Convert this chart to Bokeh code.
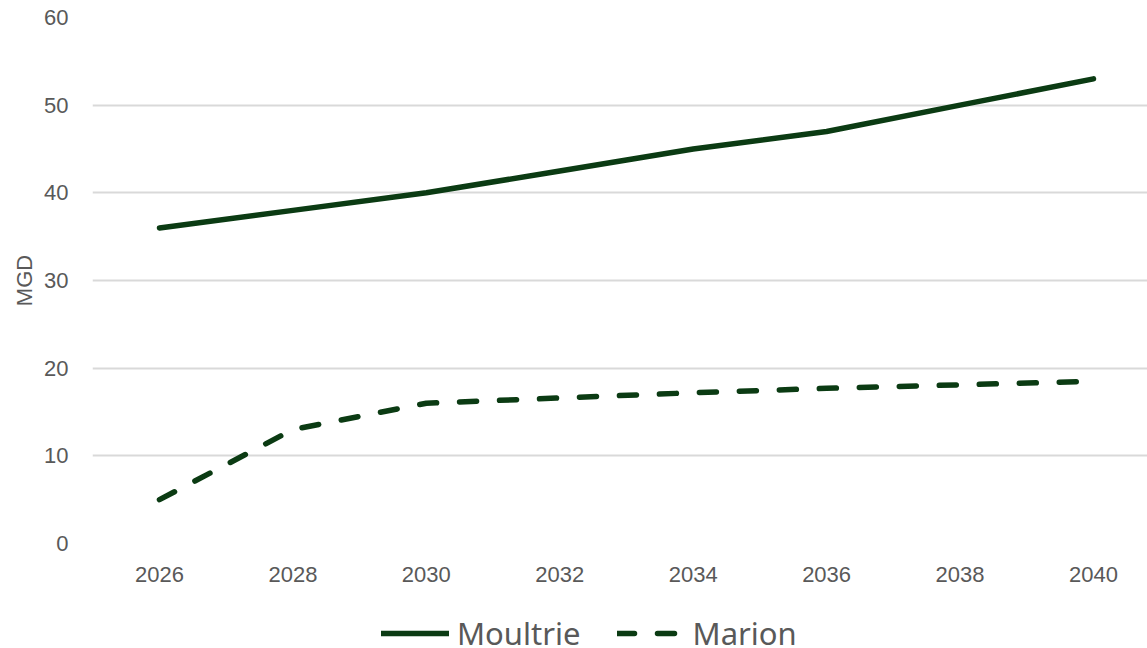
from bokeh.plotting import figure
from bokeh.layouts import column
from bokeh.models import Legend, LegendItem, FixedTicker, Range1d
from bokeh.embed import file_html
from bokeh.resources import INLINE

years = [2026, 2028, 2030, 2032, 2034, 2036, 2038, 2040]
moultrie = [36, 38, 40, 42.5, 45, 47, 50, 53]
marion = [5, 13, 16, 16.6, 17.2, 17.7, 18.1, 18.5]
y_ticks = [0, 10, 20, 30, 40, 50, 60]
x_ticks = years
y_label = "MGD"
series_names = ["Moultrie", "Marion"]

GREEN = "#0b3b13"
GRAY_TXT = "#595959"

p = figure(width=1147, height=596, output_backend="svg", toolbar_location=None,
           x_range=Range1d(2024.996, 2040.81), y_range=Range1d(0, 60),
           min_border_left=92, min_border_right=0, min_border_top=17,
           min_border_bottom=53)
p.outline_line_color = None
p.background_fill_color = "white"
p.border_fill_color = "white"

p.xgrid.grid_line_color = None
p.ygrid.grid_line_color = "#d9d9d9"
p.ygrid.grid_line_width = 1.8
p.ygrid.ticker = FixedTicker(ticks=y_ticks)

for ax in (p.xaxis[0], p.yaxis[0]):
    ax.axis_line_color = None
    ax.major_tick_line_color = None
    ax.minor_tick_line_color = None
    ax.major_tick_in = 0
    ax.major_tick_out = 0
    ax.minor_tick_in = 0
    ax.minor_tick_out = 0
    ax.major_label_text_font = "Liberation Sans"
    ax.major_label_text_font_size = "22px"
    ax.major_label_text_color = GRAY_TXT

p.xaxis.ticker = FixedTicker(ticks=x_ticks)
p.yaxis.ticker = FixedTicker(ticks=y_ticks)
p.yaxis.major_label_standoff = 24
p.xaxis.major_label_standoff = 23
p.yaxis.axis_label = y_label
p.yaxis.axis_label_text_font = "Liberation Sans"
p.yaxis.axis_label_text_font_size = "22px"
p.yaxis.axis_label_text_font_style = "normal"
p.yaxis.axis_label_text_color = GRAY_TXT
p.yaxis.axis_label_standoff = 4

line_kw = dict(line_color=GREEN, line_width=5.5, line_cap="round", line_join="round")
p.line(years, moultrie, **line_kw)
p.line(years, marion, line_dash="17 23", **line_kw)

# legend strip below the chart (its lines lie outside its own view)
q = figure(width=1147, height=52, output_backend="svg", toolbar_location=None,
           x_range=Range1d(0, 1000), y_range=Range1d(0, 60),
           x_axis_location=None, y_axis_location=None,
           min_border_left=0, min_border_right=0, min_border_top=0,
           min_border_bottom=0)
q.outline_line_color = None
q.grid.visible = False
q.background_fill_color = "white"
q.border_fill_color = "white"
l1 = q.line(years, moultrie, **line_kw)
l2 = q.line(years, marion, line_dash="17 23", **line_kw)

legend = Legend(items=[LegendItem(label=series_names[0], renderers=[l1]),
                       LegendItem(label=series_names[1], renderers=[l2])],
                orientation="horizontal", location=(289, -6),
                glyph_width=68, label_standoff=8, spacing=36,
                padding=0, margin=0, border_line_alpha=0,
                background_fill_alpha=0,
                label_text_font="Noto Sans", label_text_font_size="31px",
                label_text_color=GRAY_TXT)
q.add_layout(legend, "center")

layout = column(p, q, spacing=0)
open("out.html", "w").write(file_html(layout, INLINE))
